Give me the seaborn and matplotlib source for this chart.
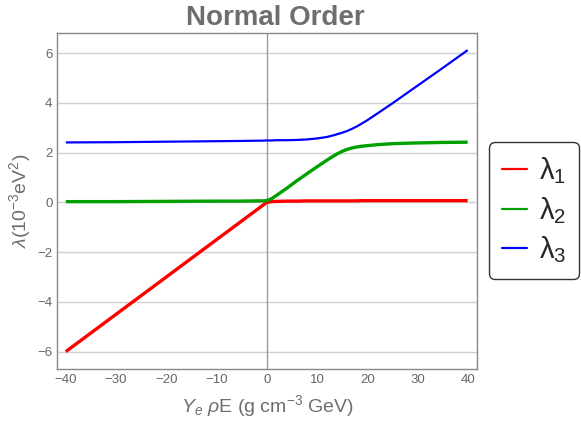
import numpy as np
import pandas as pd
import seaborn as sns
import matplotlib.pyplot as plt

# values
x = [-40, -30, -20, -10, -5, -2, -1, 0, 1, 2, 4, 6, 8, 10, 12, 13, 14, 15, 16, 17, 18, 19, 20, 22, 25, 30, 35, 40]
lam1 = [-6.0, -4.5, -3.0, -1.5, -0.75, -0.3, -0.15, 0.0, 0.03, 0.04, 0.05, 0.05, 0.06, 0.06, 0.06, 0.06, 0.06,
        0.06, 0.06, 0.06, 0.06, 0.07, 0.07, 0.07, 0.07, 0.07, 0.07, 0.07]
lam2 = [0.03, 0.03, 0.04, 0.05, 0.05, 0.06, 0.06, 0.07, 0.15, 0.29, 0.57, 0.87, 1.15, 1.43, 1.7, 1.83, 1.95,
        2.05, 2.13, 2.19, 2.23, 2.26, 2.28, 2.32, 2.36, 2.39, 2.41, 2.42]
lam3 = [2.41, 2.42, 2.44, 2.46, 2.47, 2.48, 2.48, 2.49, 2.49, 2.5, 2.5, 2.51, 2.53, 2.57, 2.63, 2.68, 2.74,
        2.8, 2.87, 2.96, 3.06, 3.18, 3.3, 3.57, 3.98, 4.69, 5.4, 6.12]
names = [r'$\mathregular{\lambda_1}$', r'$\mathregular{\lambda_2}$', r'$\mathregular{\lambda_3}$']
colors = ['#ff0000', '#00a000', '#0000ff']

df = pd.DataFrame({
    'x': x * 3,
    'y': lam1 + lam2 + lam3,
    'eig': [names[0]] * len(x) + [names[1]] * len(x) + [names[2]] * len(x),
})

sns.set_style('white')
plt.rcParams['font.family'] = ['Liberation Sans', 'DejaVu Sans']
plt.rcParams['mathtext.fontset'] = 'custom'
plt.rcParams['mathtext.rm'] = 'Liberation Sans'
plt.rcParams['mathtext.it'] = 'Liberation Sans:italic'

fig = plt.figure(figsize=(5.81, 4.21), dpi=100)
ax = fig.add_axes([0.0986, 0.1235, 0.7219, 0.7975])

sns.lineplot(data=df, x='x', y='y', hue='eig', palette=colors, ax=ax, legend=False, sort=False)
for line, lw in zip(ax.get_lines(), [2.4, 2.4, 1.6]):
    line.set_linewidth(lw)
    line.set_solid_capstyle('butt')

ax.set_xlim(-41.7, 41.8)
ax.set_ylim(-6.7, 6.8)
ax.set_xticks([-40, -30, -20, -10, 0, 10, 20, 30, 40])
ax.set_xticklabels(['\u221240', '\u221230', '\u221220', '\u221210', '0', '10', '20', '30', '40'])
ax.set_yticks([-6, -4, -2, 0, 2, 4, 6])
ax.set_yticklabels(['\u22126', '\u22124', '\u22122', '0', '2', '4', '6'])
for yv in [-6, -4, -2, 0, 2, 4, 6]:
    ax.axhline(yv, color='#d0d0d0', lw=1.0, zorder=0)
ax.axvline(0, color='#999999', lw=1.0, zorder=0.5)

ax.tick_params(direction='in', length=4, width=0.8, colors='#888888', labelcolor='#666666', labelsize=9.5)
for s in ax.spines.values():
    s.set_color('#888888')
    s.set_linewidth(1.0)

ax.set_title('Normal Order', fontsize=20, fontweight='bold', color='#6e6e6e', pad=6, x=0.519)
ax.set_xlabel(r'$Y_e$ $\rho$E (g cm$^{-3}$ GeV)', fontsize=14, color='#6e6e6e', labelpad=5)
ax.set_ylabel(r'$\lambda$(10$^{-3}$eV$^2$)', fontsize=14, color='#6e6e6e', labelpad=3)

handles = [plt.Line2D([], [], color=c, lw=1.6) for c in colors]
leg = fig.legend(handles, names, loc='center left', bbox_to_anchor=(0.842, 0.5), fontsize=21,
                 frameon=True, fancybox=True, edgecolor='black', handlelength=0.85, handletextpad=0.4,
                 borderpad=0.45, labelspacing=0.3, borderaxespad=0)
leg.get_frame().set_linewidth(1.0)

fig.savefig('out.png', dpi=100)
